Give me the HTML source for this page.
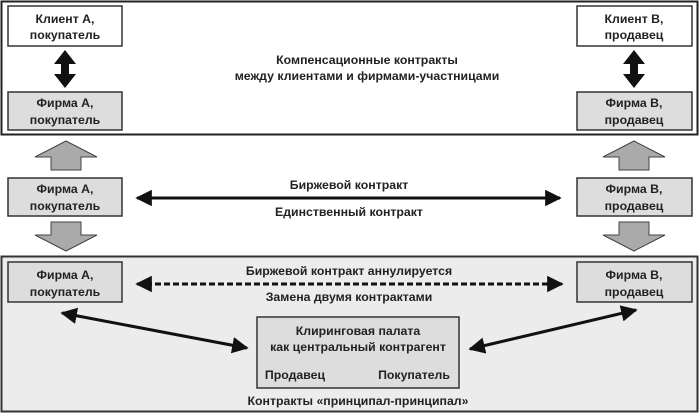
<!DOCTYPE html>
<html><head><meta charset="utf-8"><style>
body{margin:0;background:#fff}
svg{display:block;font-family:"Liberation Sans",Arial,sans-serif;font-size:12.3px;font-weight:bold}
text{text-anchor:middle;fill:#222}
</style></head><body>
<svg width="700" height="413" viewBox="0 0 700 413">
<defs>
<marker id="ah" viewBox="0 0 10 10" refX="9" refY="5" markerWidth="5.5" markerHeight="5.5" orient="auto-start-reverse"><path d="M0,0L10,5L0,10z" fill="#111"/></marker>
</defs>
<rect x="1.5" y="1.5" width="696" height="133" fill="#fff" stroke="#222" stroke-width="2"/>
<rect x="1.5" y="256.5" width="696" height="155" fill="#ececec" stroke="#333" stroke-width="2"/>
<g stroke="#333" stroke-width="1.5">
<rect x="8" y="6" width="114" height="40" fill="#fff"/>
<rect x="577" y="6" width="115" height="40" fill="#fff"/>
<rect x="8" y="92" width="114" height="38" fill="#ddd"/>
<rect x="577" y="92" width="115" height="38" fill="#ddd"/>
<rect x="8" y="178" width="114" height="38" fill="#ddd"/>
<rect x="577" y="178" width="115" height="38" fill="#ddd"/>
<rect x="8" y="262" width="114" height="40" fill="#ddd"/>
<rect x="577" y="262" width="115" height="40" fill="#ddd"/>
<rect x="257" y="317" width="202" height="71" fill="#ddd"/>
</g>
<g fill="#111">
<path d="M65,50L76,64H69V74H76L65,88L54,74H61V64H54Z"/>
<path d="M634,50L645,64H638V74H645L634,88L623,74H630V64H623Z"/>
</g>
<g fill="#aaa" stroke="#444" stroke-width="1">
<path d="M66,141L97,157H81V170H51V157H35Z"/>
<path d="M634,141L665,157H649V170H619V157H603Z"/>
<path d="M51,222H81V235H97L66,251L35,235H51Z"/>
<path d="M619,222H649V235H665L634,251L603,235H619Z"/>
</g>
<g stroke="#111" stroke-width="3" fill="none" marker-start="url(#ah)" marker-end="url(#ah)">
<line x1="137" y1="198" x2="560" y2="198"/>
<line x1="137" y1="284" x2="562" y2="284" stroke-dasharray="6,3"/>
<line x1="62" y1="313" x2="247" y2="348"/>
<line x1="636" y1="310" x2="470" y2="349"/>
</g>
<text x="65" y="23">Клиент А,</text><text x="65" y="39">покупатель</text>
<text x="634" y="23">Клиент В,</text><text x="634" y="39">продавец</text>
<text x="65" y="107">Фирма А,</text><text x="65" y="124">покупатель</text>
<text x="634" y="107">Фирма В,</text><text x="634" y="124">продавец</text>
<text x="65" y="193">Фирма А,</text><text x="65" y="210">покупатель</text>
<text x="634" y="193">Фирма В,</text><text x="634" y="210">продавец</text>
<text x="65" y="279">Фирма А,</text><text x="65" y="296">покупатель</text>
<text x="634" y="279">Фирма В,</text><text x="634" y="296">продавец</text>
<text x="367" y="64">Компенсационные контракты</text>
<text x="367" y="80">между клиентами и фирмами-участницами</text>
<text x="349" y="189">Биржевой контракт</text>
<text x="349" y="216">Единственный контракт</text>
<text x="349" y="275">Биржевой контракт аннулируется</text>
<text x="349" y="301">Замена двумя контрактами</text>
<text x="358" y="335">Клиринговая палата</text>
<text x="358" y="351">как центральный контрагент</text>
<text x="295" y="379">Продавец</text>
<text x="414" y="379">Покупатель</text>
<text x="358" y="405">Контракты «принципал-принципал»</text>
</svg>
</body></html>
